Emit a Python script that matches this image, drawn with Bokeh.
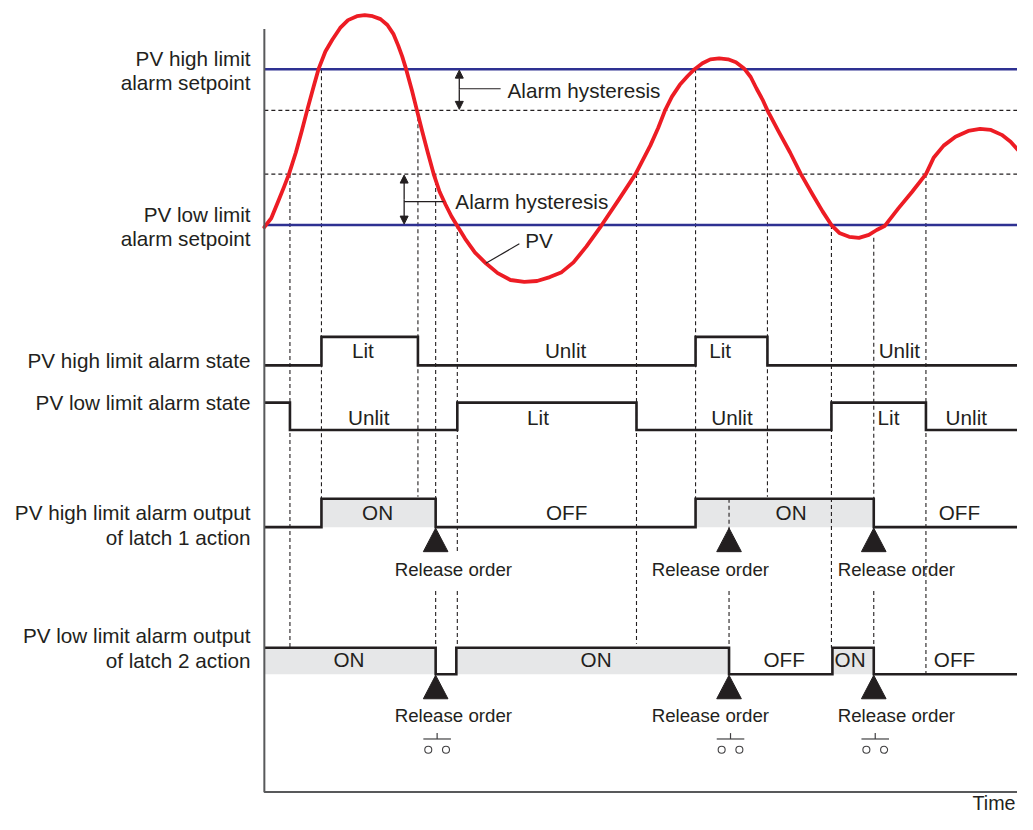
from bokeh.plotting import figure
from bokeh.models import Range1d, Arrow, NormalHead
from bokeh.core.properties import value
from bokeh.embed import file_html
from bokeh.resources import INLINE

# ---------------- data ----------------
# time in arbitrary units (0 = left axis, 765 = right edge)
pv_time = [0, 7, 14, 20, 25, 32, 38, 44, 50, 55, 62, 69, 77, 85, 94, 102, 110, 118, 125,
           131, 136, 140, 144, 150, 155, 160, 166, 172, 178, 184, 190, 196, 204, 214, 225,
           237, 250, 264, 277, 290, 302, 314, 327, 342, 360, 377,
           392, 400, 407, 414, 422, 430, 437, 445, 453, 462, 471, 479, 487, 494, 500, 506, 511,
           522, 534, 545, 557, 567, 576, 584, 594,
           604, 614, 622, 630, 644, 658, 672, 680, 690, 702, 715, 727, 738, 749, 758, 765]
pv_value = [69, 78, 95, 110, 123, 145, 167, 190, 212, 230, 248, 260, 272, 280, 284, 285,
            284, 281, 275, 266, 254, 243, 230, 208, 188, 168, 145, 123, 105, 92, 80, 70, 57,
            43, 32, 22, 15, 13, 14, 18, 23, 33, 49, 70, 97, 123,
            152, 170, 188, 202, 214, 223, 230, 236, 240, 241, 240, 237, 231, 222, 210, 199, 188,
            167, 145, 123, 102, 85, 71, 63, 59,
            58, 61, 66, 70, 88, 105, 123, 140, 152, 161, 167, 169, 168, 163, 156, 148]

HIGH_SP, HIGH_HYS = 230, 42
LOW_SP, LOW_HYS = 71, 52
T_END = 765

hi_state_init, hi_state_edges = 0, [58, 156, 438, 511]
lo_state_init, lo_state_edges = 1, [26, 196, 378, 576, 672]
hi_out_init, hi_out_edges = 0, [58, 174, 438, 619]
lo_out_init, lo_out_edges = 1, [174, 195, 472, 577, 619]
release_times = [174, 472, 619]

hi_state_labels = ["Lit", "Unlit", "Lit", "Unlit"]
lo_state_labels = ["Unlit", "Lit", "Unlit", "Lit", "Unlit"]
hi_out_labels = ["ON", "OFF", "ON", "OFF"]
lo_out_labels = ["ON", "ON", "OFF", "ON", "OFF"]

row_titles = [["PV high limit", "alarm setpoint"], ["PV low limit", "alarm setpoint"],
              ["PV high limit alarm state"], ["PV low limit alarm state"],
              ["PV high limit alarm output", "of latch 1 action"],
              ["PV low limit alarm output", "of latch 2 action"]]

# ---------------- layout ----------------
W, H = 1017, 814
REF_W, REF_H = 1033, 830
S = W / REF_W
X0 = 268           # reference x of time 0
FONT = value("Liberation Sans")
TXT = "#231f20"
RED = "#ed1c24"
BLUE = "#2e3192"

def fs(px):
    return f"{px * S:.1f}px"

p = figure(width=W, height=H, output_backend="svg", toolbar_location=None,
           x_range=Range1d(-X0, REF_W - X0), y_range=Range1d(REF_H, 0),
           min_border=0, min_border_left=0, min_border_right=0,
           min_border_top=0, min_border_bottom=0)
p.axis.visible = False
p.grid.visible = False
p.outline_line_color = None
p.background_fill_color = "white"
p.border_fill_color = "white"

PV_OFF = 300  # pv range: pv = PV_OFF - layout_y
p.extra_y_ranges = {"pv": Range1d(PV_OFF - REF_H, PV_OFF)}

rows = {"hi_state": (372, 343), "lo_state": (438, 410),
        "hi_out": (537, 508), "lo_out": (687, 660)}
for name, (base, top) in rows.items():
    u = base - top
    p.extra_y_ranges[name] = Range1d((base - REF_H) / u, base / u)

def step_xy(init, edges):
    xs, ys, lvl = [0], [init], init
    for e in edges:
        xs += [e, e]
        ys += [lvl, 1 - lvl]
        lvl = 1 - lvl
    xs.append(T_END)
    ys.append(lvl)
    return xs, ys

def on_intervals(init, edges):
    bounds = [0] + edges + [T_END]
    lvl, out = init, []
    for a, b in zip(bounds[:-1], bounds[1:]):
        if lvl == 1:
            out.append((a, b))
        lvl = 1 - lvl
    return out

# gray fills for outputs
for name, init, edges in [("hi_out", hi_out_init, hi_out_edges),
                          ("lo_out", lo_out_init, lo_out_edges)]:
    iv = on_intervals(init, edges)
    p.quad(left=[a for a, b in iv], right=[b for a, b in iv], bottom=0, top=1,
           y_range_name=name, fill_color="#e6e7e8", line_color=None)

# guide lines (dashed)
def ypx(pv):
    return PV_OFF - pv

guides = [
    (26, ypx(LOW_SP + LOW_HYS), 660),
    (58, ypx(HIGH_SP), 508),
    (156, ypx(HIGH_SP - HIGH_HYS), 506),
    (174, ypx(LOW_SP + LOW_HYS), 508), (174, 602, 660),
    (196, ypx(LOW_SP), 563), (196, 602, 660),
    (378, ypx(LOW_SP + LOW_HYS), 656),
    (438, ypx(HIGH_SP), 508),
    (472, 508, 563), (472, 602, 688),
    (511, ypx(HIGH_SP - HIGH_HYS), 506),
    (576, ypx(LOW_SP), 660),
    (619, 242, 563), (619, 602, 688),
    (672, ypx(LOW_SP + LOW_HYS), 686),
]
p.segment(x0=[g[0] for g in guides], y0=[g[1] for g in guides],
          x1=[g[0] for g in guides], y1=[g[2] for g in guides],
          line_color="#231f20", line_width=1.1, line_dash="4 3")

# horizontal hysteresis dashed lines
p.segment(x0=[0, 0], x1=[T_END, T_END], y0=[HIGH_SP - HIGH_HYS, LOW_SP + LOW_HYS],
          y1=[HIGH_SP - HIGH_HYS, LOW_SP + LOW_HYS], y_range_name="pv",
          line_color="#231f20", line_width=1.1, line_dash="4 3")
# setpoint lines
p.segment(x0=[0, 0], x1=[T_END, T_END], y0=[HIGH_SP, LOW_SP], y1=[HIGH_SP, LOW_SP],
          y_range_name="pv", line_color=BLUE, line_width=2.5)

# PV curve
p.line(pv_time, pv_value, y_range_name="pv", line_color=RED, line_width=3.8,
       line_join="round", line_cap="round")

# state / output step lines
for name, init, edges in [("hi_state", hi_state_init, hi_state_edges),
                          ("lo_state", lo_state_init, lo_state_edges),
                          ("hi_out", hi_out_init, hi_out_edges),
                          ("lo_out", lo_out_init, lo_out_edges)]:
    xs, ys = step_xy(init, edges)
    p.line(xs, ys, y_range_name=name, line_color=TXT, line_width=2.6, line_join="miter")

# axes lines
p.line([0, 0, T_END], [29, 807, 807], line_color="#58595b", line_width=2)

# release triangles
tri_xs, tri_ys = [], []
for base in (538, 688):
    for t in release_times:
        tri_xs.append([t - 12.5, t, t + 12.5])
        tri_ys.append([base + 24, base, base + 24])
p.patches(tri_xs, tri_ys, fill_color=TXT, line_color=TXT, line_width=1)

# release order texts
rel_text_x = [192, 453, 642]
for y in (580, 729):
    p.text(x=rel_text_x, y=[y] * 3, text=["Release order"] * 3, text_font=FONT,
           text_font_size=fs(19), text_align="center", text_baseline="middle",
           text_color=TXT)

# switch symbols
sw_c = [t + 1.5 for t in release_times]
p.segment(x0=[c - 14 for c in sw_c], x1=[c + 14 for c in sw_c], y0=[753] * 3, y1=[753] * 3,
          line_color="#414042", line_width=1.2)
p.segment(x0=sw_c, x1=sw_c, y0=[747] * 3, y1=[753] * 3, line_color="#414042", line_width=1.2)
p.scatter(x=[c - 9 for c in sw_c] + [c + 9 for c in sw_c], y=[764] * 6, marker="circle",
          size=7, fill_color="white", line_color="#414042", line_width=1.1)

# hysteresis arrows
for x, y0, y1 in [(198, 71, 111), (142, 178, 228)]:
    for ye in (y0, y1):
        p.add_layout(Arrow(x_start=x, y_start=(y0 + y1) / 2, x_end=x, y_end=ye,
                           end=NormalHead(size=8, fill_color=TXT, line_color=TXT),
                           line_color=TXT, line_width=1.3))
p.segment(x0=[198, 142, 225], x1=[240, 182, 259], y0=[90, 205, 268], y1=[90, 205, 248],
          line_color=TXT, line_width=1.2)
p.text(x=[247, 194, 265], y=[92, 205, 245], text=["Alarm hysteresis", "Alarm hysteresis", "PV"],
       text_font=FONT, text_font_size=fs(21), text_align="left", text_baseline="middle",
       text_color=TXT)

# row titles
title_y = [[59, 84], [218, 243], [367], [410], [522, 548], [647, 673]]
tx, ty, tt = [], [], []
for lines, ys in zip(row_titles, title_y):
    for s, y in zip(lines, ys):
        tx.append(-14)
        ty.append(y)
        tt.append(s)
p.text(x=tx, y=ty, text=tt, text_font=FONT, text_font_size=fs(21), text_align="right",
       text_baseline="middle", text_color=TXT)

# state labels
lab_specs = [(hi_state_labels, [100, 306, 463, 645], 357),
             (lo_state_labels, [106, 278, 475, 634, 713], 425),
             (hi_out_labels, [115, 307, 535, 706], 522),
             (lo_out_labels, [86, 337, 528, 595, 701], 672)]
for labs, xs, y in lab_specs:
    p.text(x=xs, y=[y] * len(xs), text=labs, text_font=FONT, text_font_size=fs(21),
           text_align="center", text_baseline="middle", text_color=TXT)

p.text(x=[REF_W - X0 - 2], y=[829], text=["Time"], text_font=FONT, text_font_size=fs(20),
       text_align="right", text_baseline="bottom", text_color=TXT)

open("out.html", "w").write(file_html(p, INLINE))
